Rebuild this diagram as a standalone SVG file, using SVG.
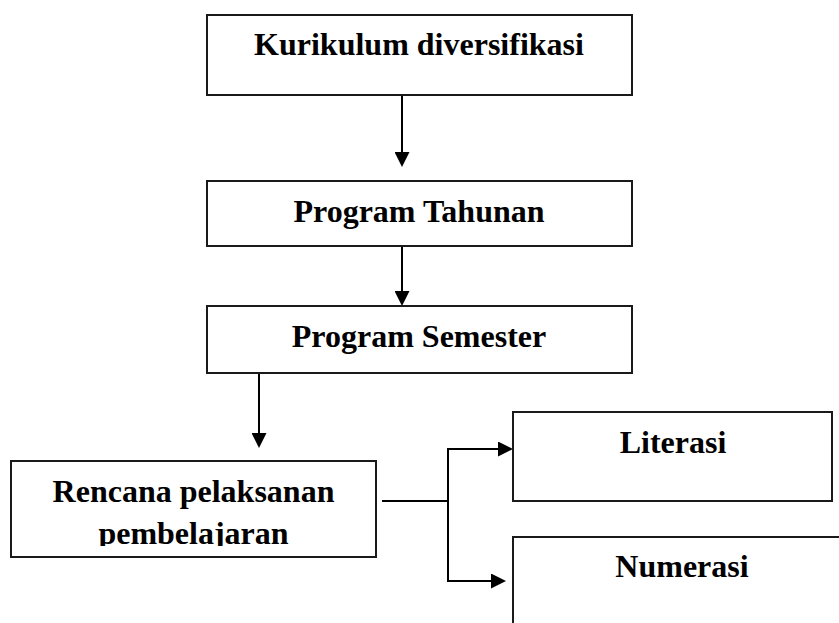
<svg xmlns="http://www.w3.org/2000/svg" width="839" height="623" viewBox="0 0 839 623">
  <style>
    .box { fill: #ffffff; stroke: #1a1a1a; stroke-width: 2; }
    .lbl { font-family: "Liberation Serif", "Times New Roman", serif; font-weight: bold; font-size: 32px; fill: #000000; text-anchor: middle; }
    .con { fill: none; stroke: #000000; stroke-width: 2; }
  </style>
  <defs>
    <marker id="arrow" markerUnits="userSpaceOnUse" markerWidth="15" markerHeight="15" refX="0" refY="7.5" orient="auto" viewBox="0 0 15 15">
      <path d="M0,0 L15,7.5 L0,15 Z" fill="#000000"/>
    </marker>
    <clipPath id="clip4">
      <rect x="11" y="461" width="365" height="85"/>
    </clipPath>
  </defs>
  <rect width="839" height="623" fill="#ffffff"/>

  <g id="connectors">
    <path class="con" d="M402,96 L402,152" marker-end="url(#arrow)"/>
    <path class="con" d="M402,246 L402,291" marker-end="url(#arrow)"/>
    <path class="con" d="M259,373 L259,433" marker-end="url(#arrow)"/>
    <path class="con" d="M382,501 L448,501"/>
    <path class="con" d="M448,449 L448,581"/>
    <path class="con" d="M447,449 L498,449" marker-end="url(#arrow)"/>
    <path class="con" d="M447,581 L491,581" marker-end="url(#arrow)"/>
  </g>

  <g id="node-kurikulum">
    <rect class="box" x="207" y="15" width="425" height="80"/>
    <text class="lbl" x="419" y="55">Kurikulum diversifikasi</text>
  </g>

  <g id="node-tahunan">
    <rect class="box" x="207" y="181" width="425" height="65"/>
    <text class="lbl" x="419" y="222">Program Tahunan</text>
  </g>

  <g id="node-semester">
    <rect class="box" x="207" y="306" width="425" height="67"/>
    <text class="lbl" x="419" y="347">Program Semester</text>
  </g>

  <g id="node-rpp">
    <rect class="box" x="11" y="461" width="365" height="96"/>
    <text class="lbl" x="193.5" y="502" clip-path="url(#clip4)">Rencana pelaksanan</text>
    <text class="lbl" x="193.5" y="544" clip-path="url(#clip4)">pembelajaran</text>
  </g>

  <g id="node-literasi">
    <rect class="box" x="513" y="412" width="319" height="89"/>
    <text class="lbl" x="673" y="453">Literasi</text>
  </g>

  <g id="node-numerasi">
    <rect class="box" x="513" y="537" width="338" height="95"/>
    <text class="lbl" x="682" y="577">Numerasi</text>
  </g>
</svg>
